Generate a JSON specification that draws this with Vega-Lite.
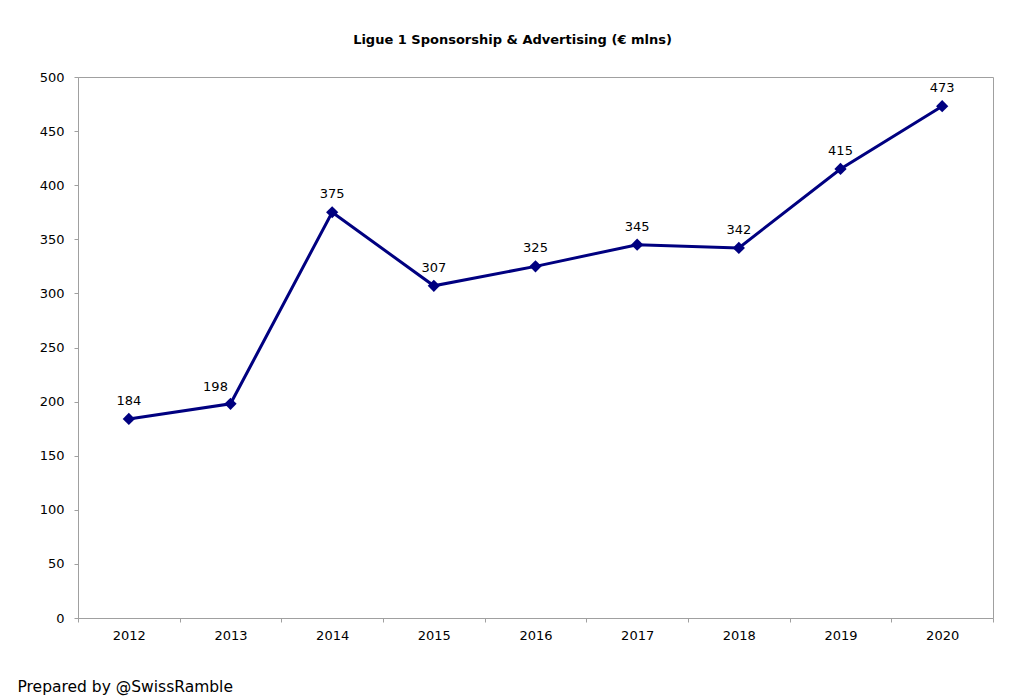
{
  "$schema": "https://vega.github.io/schema/vega-lite/v6.json",
  "width": 915,
  "height": 541,
  "autosize": "none",
  "padding": {"left": 78, "top": 77, "right": 31, "bottom": 78},
  "background": "white",
  "title": {
    "text": "Ligue 1 Sponsorship & Advertising (€ mlns)",
    "font": "DejaVu Sans",
    "fontSize": 13,
    "fontWeight": "bold",
    "color": "black",
    "anchor": "middle",
    "dx": -23,
    "offset": 24
  },
  "config": {
    "view": {"stroke": "#a0a0a0", "strokeWidth": 1},
    "font": "DejaVu Sans"
  },
  "data": {
    "values": [
      {"year": "2012", "value": 184},
      {"year": "2013", "value": 198},
      {"year": "2014", "value": 375},
      {"year": "2015", "value": 307},
      {"year": "2016", "value": 325},
      {"year": "2017", "value": 345},
      {"year": "2018", "value": 342},
      {"year": "2019", "value": 415},
      {"year": "2020", "value": 473}
    ]
  },
  "encoding": {
    "x": {
      "field": "year",
      "type": "ordinal",
      "scale": {"type": "band", "paddingInner": 0, "paddingOuter": 0},
      "axis": {
        "title": "Prepared by @SwissRamble",
        "titleFont": "DejaVu Sans",
        "titleFontSize": 15.5,
        "titleFontWeight": "normal",
        "titleColor": "black",
        "titleAlign": "left",
        "titleAnchor": "start",
        "titleBaseline": "alphabetic",
        "titleX": -61,
        "titleY": 73,
        "labelAngle": 0,
        "labelFontSize": 13,
        "labelColor": "black",
        "labelPadding": 7,
        "tickBand": "extent",
        "tickSize": 4,
        "tickColor": "#a0a0a0",
        "domainColor": "#a0a0a0",
        "grid": false
      }
    },
    "y": {
      "field": "value",
      "type": "quantitative",
      "scale": {"domain": [0, 500], "nice": false},
      "axis": {
        "title": null,
        "values": [0, 50, 100, 150, 200, 250, 300, 350, 400, 450, 500],
        "labelFontSize": 13,
        "labelColor": "black",
        "labelPadding": 10,
        "tickSize": 4,
        "tickColor": "#a0a0a0",
        "domainColor": "#a0a0a0",
        "grid": false
      }
    }
  },
  "layer": [
    {"mark": {"type": "line", "color": "#000080", "strokeWidth": 3}},
    {"mark": {"type": "point", "shape": "diamond", "filled": true, "color": "#000080", "size": 150, "opacity": 1}},
    {
      "transform": [{"filter": "datum.year != '2013'"}],
      "mark": {"type": "text", "fontSize": 13, "color": "black", "baseline": "middle", "dy": -18},
      "encoding": {"text": {"field": "value", "type": "quantitative"}}
    },
    {
      "transform": [{"filter": "datum.year == '2013'"}],
      "mark": {"type": "text", "fontSize": 13, "color": "black", "baseline": "middle", "dy": -17, "dx": -15},
      "encoding": {"text": {"field": "value", "type": "quantitative"}}
    }
  ]
}
